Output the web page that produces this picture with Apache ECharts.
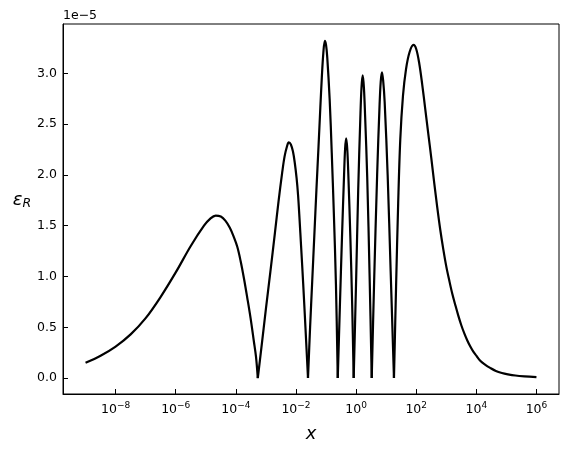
<!DOCTYPE html>
<html>
<head>
<meta charset="utf-8">
<script src="https://cdn.jsdelivr.net/npm/echarts@6/dist/echarts.min.js"></script>
<style>html,body{margin:0;padding:0;background:#fff}</style>
</head>
<body>
<div id="main" style="width:569px;height:453px"></div>
<script>
// x positions as log10(x)
var logX = [
  -9.0, -8.5, -8.0, -7.5, -7.0, -6.5, -6.0, -5.5, -5.06, -4.85, -4.67, -4.5, -4.35, -4.2, -4.07, -3.95, -3.84, -3.73, -3.62, -3.51, -3.4, -3.33, -3.27,
  -3.15, -3.0, -2.85, -2.7, -2.58, -2.46, -2.38, -2.3, -2.24, -2.17, -2.1, -2.04, -1.98, -1.93, -1.88, -1.83, -1.76, -1.68, -1.6,
  -1.53, -1.46, -1.39, -1.32, -1.25, -1.19, -1.14, -1.09, -1.04, -1.0, -0.96, -0.88, -0.81, -0.74, -0.67, -0.61,
  -0.54, -0.47, -0.4, -0.365, -0.33, -0.295, -0.26, -0.19, -0.13, -0.08,
  0.0, 0.07, 0.14, 0.18, 0.22, 0.26, 0.3, 0.37, 0.45, 0.52,
  0.6, 0.7, 0.78, 0.82, 0.86, 0.9, 0.95, 1.05, 1.15, 1.26,
  1.33, 1.4, 1.47, 1.56, 1.66, 1.78, 1.91, 2.0, 2.1, 2.2, 2.3, 2.4, 2.5, 2.6, 2.7, 2.8, 2.9, 3.0,
  3.1, 3.2, 3.3, 3.4, 3.5, 3.6, 3.7, 3.8, 3.9, 4.0, 4.13, 4.3, 4.46, 4.65, 4.85, 5.05, 5.3, 5.6, 6.0
];
// epsilon_R in units of 1e-5
var epsR = [
  0.15, 0.22, 0.31, 0.43, 0.59, 0.8, 1.04, 1.3, 1.5, 1.57, 1.60, 1.59, 1.55, 1.48, 1.39, 1.29, 1.15, 0.98, 0.79, 0.59, 0.36, 0.21, 0,
  0.3, 0.68, 1.05, 1.43, 1.74, 2.02, 2.18, 2.28, 2.32, 2.3, 2.23, 2.12, 1.97, 1.8, 1.56, 1.3, 0.93, 0.47, 0,
  0.5, 0.95, 1.4, 1.85, 2.28, 2.66, 2.96, 3.2, 3.32, 3.28, 3.16, 2.75, 2.22, 1.62, 0.92, 0,
  0.7, 1.38, 2.0, 2.26, 2.36, 2.26, 2.02, 1.38, 0.72, 0,
  0.95, 1.85, 2.55, 2.86, 2.98, 2.86, 2.58, 1.98, 1.0, 0,
  0.95, 2.0, 2.68, 2.92, 3.01, 2.93, 2.72, 2.0, 1.05, 0,
  0.9, 1.72, 2.35, 2.78, 3.04, 3.21, 3.28, 3.24, 3.1, 2.89, 2.65, 2.41, 2.17, 1.92, 1.68, 1.46, 1.27, 1.1,
  0.96, 0.83, 0.72, 0.615, 0.52, 0.44, 0.37, 0.31, 0.26, 0.22, 0.17, 0.13, 0.1, 0.07, 0.05, 0.037, 0.025, 0.017, 0.01
];
var xTickExp = [-8, -6, -4, -2, 0, 2, 4, 6];
var yTicks = [0, 0.5, 1, 1.5, 2, 2.5, 3];

var myChart = echarts.init(document.getElementById('main'));

// split the curve at its zeros so each cusp stays sharp
var segments = [];
var cur = [];
for (var i = 0; i < logX.length; i++) {
  var p = [Math.pow(10, logX[i]), epsR[i]];
  cur.push(p);
  if (epsR[i] === 0 && cur.length > 1) {
    segments.push(cur);
    cur = [p];
  }
}
if (cur.length > 1) segments.push(cur);

var xTickVals = xTickExp.map(function (e) { return Math.pow(10, e); });
var font = 'DejaVu Sans';

var option = {
  animation: false,
  title: {
    text: '1e\u22125',
    left: 63,
    top: 9,
    padding: 0,
    textStyle: { fontFamily: font, fontSize: 12.5, fontWeight: 'normal', color: '#000' }
  },
  grid: {
    left: 63,
    right: 10,
    top: 24,
    bottom: 59,
    show: true,
    borderColor: '#000',
    borderWidth: 1
  },
  xAxis: {
    type: 'log',
    logBase: 10,
    min: Math.pow(10, -9.75),
    max: Math.pow(10, 6.75),
    name: 'x',
    nameLocation: 'middle',
    nameGap: 31,
    nameTextStyle: { fontFamily: font, fontStyle: 'italic', fontSize: 18, color: '#000' },
    axisLine: { onZero: false, lineStyle: { color: '#000', width: 1 } },
    axisTick: { inside: true, length: 5, customValues: xTickVals, lineStyle: { color: '#000', width: 1 } },
    minorTick: { show: false },
    splitLine: { show: false },
    axisLabel: {
      customValues: xTickVals,
      margin: 7,
      color: '#000',
      formatter: function (v) {
        var e = Math.round(Math.log10(v));
        return '{b|10}{s|' + (e < 0 ? '\u2212' + (-e) : e) + '}';
      },
      rich: {
        b: { fontFamily: font, fontSize: 12.5, color: '#000' },
        s: { fontFamily: font, fontSize: 9, color: '#000', padding: [0, 0, 8, 0] }
      }
    }
  },
  yAxis: {
    type: 'value',
    min: -0.157,
    max: 3.486,
    name: '{e|\u03b5}{r|R}',
    nameLocation: 'middle',
    nameRotate: 0,
    nameGap: 31,
    nameTextStyle: {
      padding: [0, 0, 18, 0],
      rich: {
        e: { fontFamily: font, fontStyle: 'italic', fontSize: 18, color: '#000' },
        r: { fontFamily: font, fontStyle: 'italic', fontSize: 12.5, color: '#000', padding: [8, 0, 0, 0] }
      }
    },
    axisLine: { show: true, lineStyle: { color: '#000', width: 1 } },
    axisTick: { show: true, inside: true, length: 5, customValues: yTicks, lineStyle: { color: '#000', width: 1 } },
    splitLine: { show: false },
    axisLabel: {
      customValues: yTicks,
      margin: 6,
      color: '#000',
      fontFamily: font,
      fontSize: 12.5,
      formatter: function (v) { return v.toFixed(1); }
    }
  },
  series: segments.map(function (s) {
    return {
      type: 'line',
      data: s,
      smooth: 0.35,
      symbol: 'none',
      silent: true,
      lineStyle: { color: '#000', width: 2.2 }
    };
  })
};

option && myChart.setOption(option);
</script>
</body>
</html>
